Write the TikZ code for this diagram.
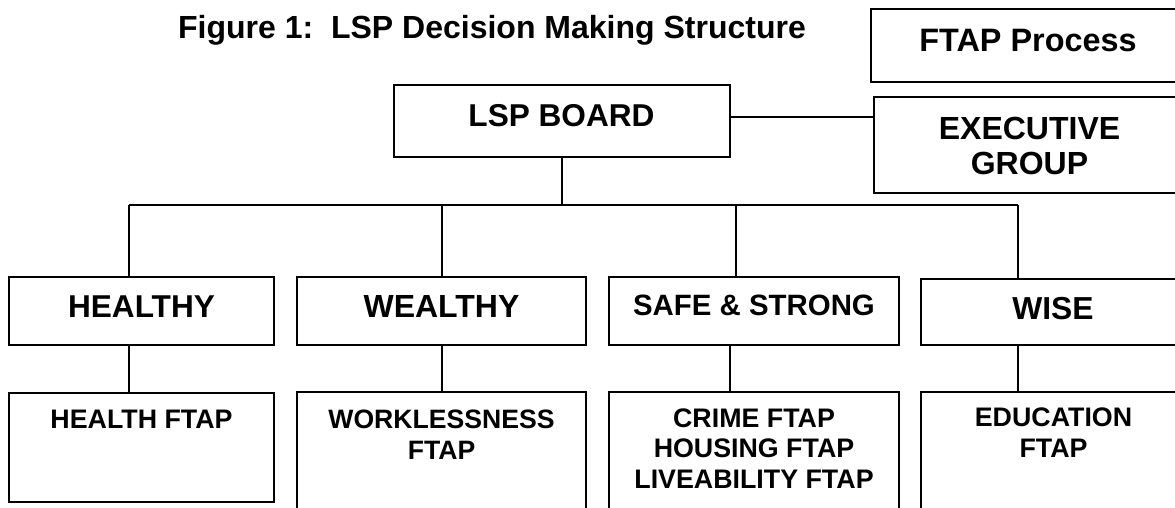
\documentclass[tikz,border=0pt]{standalone}
\usepackage{fontspec}
\setmainfont{Liberation Sans}
\usepackage{tikz}

\begin{document}
\begin{tikzpicture}[x=0.5pt,y=-0.5pt,
	box/.style={draw,line width=0.9pt,inner sep=0pt,outer sep=0pt},
	txt/.style={anchor=base,inner sep=0pt,align=center}]
	\useasboundingbox (0,0) rectangle (1175,508);
	\clip (0,0) rectangle (1175,508);
	\fill[white] (0,0) rectangle (1175,508);
	% title
	\node[txt,font=\bfseries\fontsize{16}{19}\selectfont] (title) at (492,39) {Figure 1:\ \ LSP Decision Making Structure};
	
	% top row
	\node[box,minimum width=157pt,minimum height=36.5pt] (ftap) at (1028,45.5) {};
	\node[txt,font=\bfseries\fontsize{16.2}{19}\selectfont] (ftap-t) at (1028,52) {FTAP Process};
	\node[box,minimum width=168pt,minimum height=36pt] (board) at (562,121) {};
	\node[txt,font=\bfseries\fontsize{15.8}{19}\selectfont] (board-t) at (561.5,127) {LSP BOARD};
	\node[box,minimum width=155.5pt,minimum height=48pt] (exec) at (1029.5,145) {};
	\node[txt,font=\bfseries\fontsize{16}{17.5}\selectfont] (exec-t) at (1029.5,175) {EXECUTIVE\\GROUP};
	\draw[line width=0.9pt] ([yshift=2pt]board.east) -- ([yshift=2pt]board.east -| exec.west);
	
	% themes
	\node[box,minimum width=132.5pt,minimum height=34pt] (healthy) at (141.5,311) {};
	\node[txt,font=\bfseries\fontsize{15.8}{18}\selectfont] (healthy-t) at (141.5,318) {HEALTHY};
	\node[box,minimum width=144.5pt,minimum height=34pt] (wealthy) at (441.5,311) {};
	\node[txt,font=\bfseries\fontsize{16}{18}\selectfont] (wealthy-t) at (441.5,318) {WEALTHY};
	\node[box,minimum width=145pt,minimum height=34pt] (safe) at (754,311) {};
	\node[txt,font=\bfseries\fontsize{14.7}{17}\selectfont] (safe-t) at (754,316) {SAFE \& STRONG};
	\node[box,minimum width=132pt,minimum height=33pt] (wise) at (1053,312) {};
	\node[txt,font=\bfseries\fontsize{15.9}{18}\selectfont] (wise-t) at (1053,320) {WISE};
	
	% FTAPs
	\node[box,minimum width=132.5pt,minimum height=54.5pt] (healthftap) at (141.5,447.5) {};
	\node[txt,font=\bfseries\fontsize{13.4}{15.5}\selectfont] (healthftap-t) at (141.5,429) {HEALTH FTAP};
	\node[box,minimum width=144.5pt,minimum height=69pt] (workftap) at (441.5,461) {};
	\node[txt,font=\bfseries\fontsize{13.3}{15.5}\selectfont] (workftap-t) at (441.5,459) {WORKLESSNESS\\FTAP};
	\node[box,minimum width=145pt,minimum height=69pt] (crimeftap) at (754,461) {};
	\node[txt,font=\bfseries\fontsize{13.4}{15.25}\selectfont] (crimeftap-t) at (754,488) {CRIME FTAP\\HOUSING FTAP\\LIVEABILITY FTAP};
	\node[box,minimum width=132pt,minimum height=69pt] (eduftap) at (1053,461) {};
	\node[txt,font=\bfseries\fontsize{13.4}{15.5}\selectfont] (eduftap-t) at (1053.5,458) {EDUCATION\\FTAP};
	
	% tree lines
	\coordinate (d1) at (129,205);
	\coordinate (d2) at (442,205);
	\coordinate (d3) at (736,205);
	\coordinate (d4) at (1018,205);
	\coordinate (e3) at (730,345);
	\begin{scope}[line width=0.9pt]
		\draw (board.south) -- (board.south |- d1);
		\draw (d1) -- (d4);
		\draw (d1) -- (d1 |- healthy.north);
		\draw (d2) -- (d2 |- wealthy.north);
		\draw (d3) -- (d3 |- safe.north);
		\draw (d4) -- (d4 |- wise.north);
		\draw (d1 |- healthy.south) -- (d1 |- healthftap.north);
		\draw (d2 |- wealthy.south) -- (d2 |- workftap.north);
		\draw (e3) -- (e3 |- crimeftap.north);
		\draw (d4 |- wise.south) -- (d4 |- eduftap.north);
	\end{scope}
\end{tikzpicture}
\end{document}
